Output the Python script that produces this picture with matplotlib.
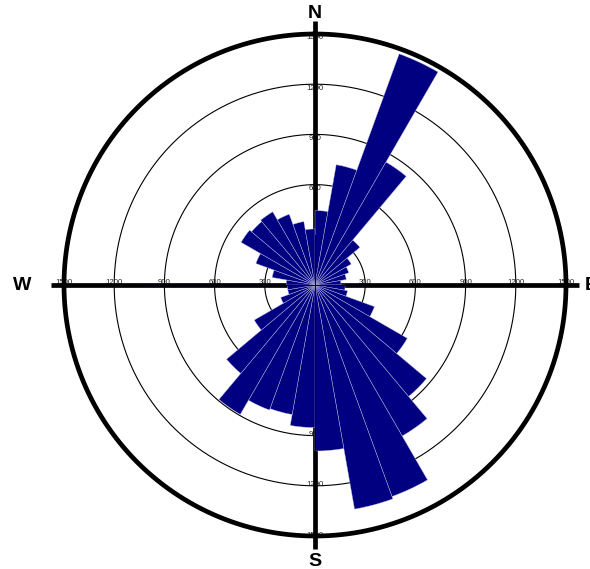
import numpy as np
import matplotlib
matplotlib.use("Agg")
import matplotlib.pyplot as plt
from matplotlib import transforms

# Direction bins (degrees clockwise from north, 10-degree sectors) and counts
bin_start_deg = list(range(0, 360, 10))
counts = [445, 730, 1470, 848, 350, 250, 215, 190, 155,
          180, 197, 378, 637, 870, 1042, 1345, 1360, 992,
          852, 786, 795, 893, 690, 419, 218, 165, 165,
          172, 260, 376, 510, 495, 505, 450, 385, 335]
ring_values = [300, 600, 900, 1200, 1500]
ring_labels = ["300", "600", "900", "1200", "1500"]
compass = ["N", "E", "S", "W"]

plt.rcParams["font.family"] = ["Liberation Sans", "DejaVu Sans"]

W, H = 590, 569
fig = plt.figure(figsize=(W / 100, H / 100), dpi=100)
cx, cy, rad = 315, 285, 251
ax = fig.add_axes([(cx - rad) / W, (H - cy - rad) / H, 2 * rad / W, 2 * rad / H],
                  projection="polar")
ax.set_theta_zero_location("N")
ax.set_theta_direction(-1)
rmax = ring_values[-1]
ax.set_ylim(0, rmax)
ax.axis("off")

theta = np.deg2rad(bin_start_deg)
ax.bar(theta, counts, width=np.deg2rad(10), align="edge",
       color="#000080", edgecolor=(0.75, 0.75, 0.9, 0.8), linewidth=0.35,
       zorder=3)

# Concentric rings
circ = np.linspace(0, 2 * np.pi, 721)
for r in ring_values[:-1]:
    ax.plot(circ, np.full_like(circ, r), color="black", lw=0.8, zorder=1)
ax.plot(circ, np.full_like(circ, rmax), color="black", lw=3.4, zorder=4,
        clip_on=False)

# Compass cross
ext = 1580
for a in (0, 90):
    t = np.deg2rad([a, a + 180])
    ax.plot([t[0], t[0]], [0, ext], color="black", lw=3.4, zorder=2.5,
            clip_on=False, solid_capstyle="butt")
    ax.plot([t[1], t[1]], [0, ext], color="black", lw=3.4, zorder=2.5,
            clip_on=False, solid_capstyle="butt")
    ax.plot([t[0], t[0]], [0, rmax * 0.2], color="#000020", lw=0.7, zorder=3.5)
    ax.plot([t[1], t[1]], [0, rmax * 0.7], color="#000020", lw=0.7, zorder=3.5)

# Ring value labels along the cross
side = transforms.offset_copy(ax.transData, fig=fig, x=0, y=0.6, units="points")
top = transforms.offset_copy(ax.transData, fig=fig, x=0, y=-2.8, units="points")
bottom = transforms.offset_copy(ax.transData, fig=fig, x=0, y=0.6, units="points")
lab_kw = dict(fontsize=5.6, color="#222222", zorder=2, ha="center")
for r, s in zip(ring_values, ring_labels):
    ax.text(np.deg2rad(90), r, s, va="baseline", transform=side, **lab_kw)
    ax.text(np.deg2rad(270), r, s, va="baseline", transform=side, **lab_kw)
    ax.text(0, r, s, va="center", transform=top, **lab_kw)
    ax.text(np.pi, r, s, va="center", transform=bottom, **lab_kw)

# Compass letters
pos = {"N": (0, 1620), "E": (90, 1652), "S": (180, 1654), "W": (270, 1750)}
for c in compass:
    a, r = pos[c]
    ax.text(np.deg2rad(a), r, c, ha="center", va="center", fontsize=14,
            fontweight="bold", color="black", clip_on=False, zorder=5)

fig.savefig("out.png", dpi=100)
